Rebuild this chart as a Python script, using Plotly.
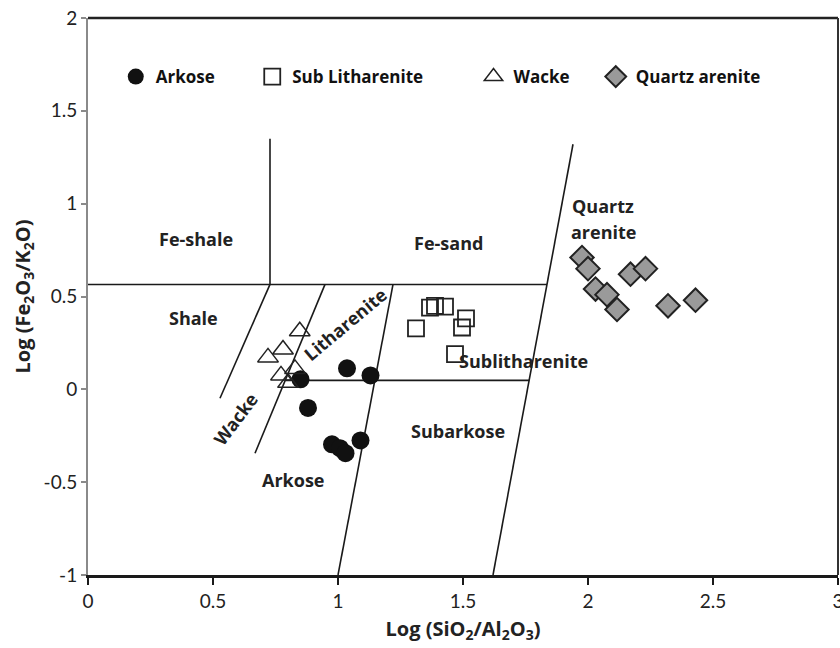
import plotly.graph_objects as go

# Geochemical classification of sandstones (Herron diagram)
arkose_x = [0.85, 1.036, 1.13, 0.88, 0.976, 1.008, 1.03, 1.09]
arkose_y = [0.054, 0.113, 0.075, -0.10, -0.296, -0.317, -0.344, -0.275]

sublith_x = [1.312, 1.368, 1.388, 1.428, 1.512, 1.496, 1.468]
sublith_y = [0.328, 0.44, 0.45, 0.446, 0.382, 0.333, 0.19]

wacke_x = [0.847, 0.78, 0.72, 0.772, 0.80, 0.828]
wacke_y = [0.313, 0.215, 0.172, 0.075, 0.035, 0.11]

qarenite_x = [1.976, 2.0, 2.03, 2.076, 2.116, 2.17, 2.23, 2.32, 2.43]
qarenite_y = [0.71, 0.65, 0.54, 0.51, 0.43, 0.62, 0.65, 0.45, 0.48]

# Field boundaries: (x0, y0, x1, y1)
boundaries = [
    (0.0, 0.565, 1.836, 0.565),
    (0.728, 0.565, 0.728, 1.35),
    (0.728, 0.565, 0.528, -0.048),
    (0.948, 0.565, 0.668, -0.344),
    (1.22, 0.565, 1.0, -1.0),
    (0.789, 0.048, 1.765, 0.048),
    (1.62, -1.0, 1.94, 1.32),
]

# Field names: (text, x, y, angle)
fields = [
    ("Fe-shale", 0.432, 0.81, 0),
    ("Fe-sand", 1.44, 0.79, 0),
    ("Quartz", 2.06, 0.99, 0),
    ("arenite", 2.06, 0.845, 0),
    ("Shale", 0.42, 0.385, 0),
    ("Litharenite", 1.03, 0.35, -40),
    ("Wacke", 0.59, -0.16, -53),
    ("Sublitharenite", 1.74, 0.155, 0),
    ("Subarkose", 1.48, -0.225, 0),
    ("Arkose", 0.82, -0.49, 0),
]

xticks = [0, 0.5, 1, 1.5, 2, 2.5, 3]
yticks = [-1, -0.5, 0, 0.5, 1, 1.5, 2]

TICK_FONT = "Lato, 'Open Sans', sans-serif"
BOLD_FONT = "'Open Sans', sans-serif"

fig = go.Figure()

for x0, y0, x1, y1 in boundaries:
    fig.add_trace(go.Scatter(x=[x0, x1], y=[y0, y1], mode="lines",
                             line=dict(color="#1a1a1a", width=1.6),
                             showlegend=False, hoverinfo="skip"))

fig.add_trace(go.Scatter(
    x=arkose_x, y=arkose_y, mode="markers", name="<b>Arkose</b>",
    marker=dict(symbol="circle", size=18, color="#111111",
                line=dict(width=0)),
    legend="legend"))
fig.add_trace(go.Scatter(
    x=sublith_x, y=sublith_y, mode="markers", name="<b>Sub Litharenite</b>",
    marker=dict(symbol="square-open", size=16, color="#222222",
                line=dict(width=1.8)),
    legend="legend2"))
fig.add_trace(go.Scatter(
    x=wacke_x, y=wacke_y, mode="markers", name="<b>Wacke</b>",
    marker=dict(symbol="triangle-up-open", size=18, color="#222222",
                line=dict(width=1.5)),
    legend="legend3"))
fig.add_trace(go.Scatter(
    x=qarenite_x, y=qarenite_y, mode="markers", name="<b>Quartz arenite</b>",
    marker=dict(symbol="diamond", size=18, color="#9a9a9a",
                line=dict(width=2, color="#222222")),
    legend="legend4"))

for text, x, y, ang in fields:
    fig.add_annotation(x=x, y=y, text=f"<b>{text}</b>", showarrow=False,
                       textangle=ang,
                       font=dict(family=BOLD_FONT, size=18, color="#222222"))

legend_common = dict(orientation="h", yanchor="middle", y=0.894,
                     xanchor="left", bgcolor="rgba(0,0,0,0)",
                     borderwidth=0, itemwidth=30,
                     font=dict(family=BOLD_FONT, size=17, color="#111111"))

fig.update_layout(
    width=840, height=648,
    margin=dict(l=88, r=2, t=18, b=73),
    paper_bgcolor="white", plot_bgcolor="white",
    showlegend=True,
    legend=dict(x=0.037, **legend_common),
    legend2=dict(x=0.219, **legend_common),
    legend3=dict(x=0.514, **legend_common),
    legend4=dict(x=0.677, **legend_common),
    xaxis=dict(range=[0, 3], tickvals=xticks, ticktext=[f"{v:g}" for v in xticks],
               showgrid=False, zeroline=False, ticklabeloverflow="allow",
               automargin=False,
               showline=True, linecolor="#1a1a1a", linewidth=3,
               ticks="outside", ticklen=7, tickcolor="#1a1a1a", tickwidth=1.5,
               tickfont=dict(family=TICK_FONT, size=19, color="#222222"),
               title=dict(text="<b>Log (SiO<sub>2</sub>/Al<sub>2</sub>O<sub>3</sub>)</b>",
                          font=dict(family=BOLD_FONT, size=20, color="#222222"),
                          standoff=12)),
    yaxis=dict(range=[-1, 2], tickvals=yticks, ticktext=[f"{v:g}" for v in yticks],
               showgrid=False, zeroline=False, automargin=False,
               showline=True, linecolor="#8a8a8a", linewidth=2,
               ticks="outside", ticklen=5, tickcolor="#8a8a8a", tickwidth=1.5,
               tickfont=dict(family=TICK_FONT, size=19, color="#222222"),
               title=dict(text="<b>Log (Fe<sub>2</sub>O<sub>3</sub>/K<sub>2</sub>O)</b>",
                          font=dict(family=BOLD_FONT, size=20, color="#222222"),
                          standoff=8)),
)

# Frame on the top and right sides of the plot area
fig.add_shape(type="line", xref="paper", yref="paper", x0=0, x1=1, y0=1, y1=1,
              line=dict(color="#222222", width=2.5))
fig.add_shape(type="line", xref="paper", yref="paper", x0=1, x1=1, y0=0, y1=1,
              line=dict(color="#333333", width=2))

fig.write_html("out.html")
